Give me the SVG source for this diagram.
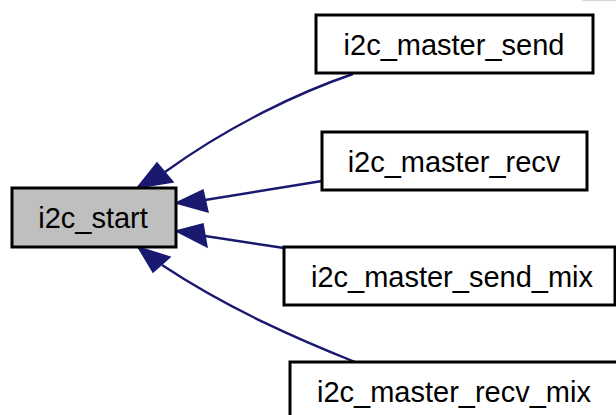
<svg xmlns="http://www.w3.org/2000/svg" width="616" height="415" viewBox="0 0 616 415">
  <style>
    .box { fill: #ffffff; stroke: #000000; stroke-width: 3; }
    .box.cur { fill: #bfbfbf; }
    .lbl { font-family: "Liberation Sans", Arial, sans-serif; font-size: 29px; fill: #000000; text-anchor: middle; }
    .edge { fill: none; stroke: #191970; stroke-width: 2.4; }
    .head { fill: #191970; stroke: #191970; stroke-width: 1.5; stroke-linejoin: miter; }
  </style>
  <rect width="616" height="415" fill="#ffffff"/>

  <!-- callers pointing at i2c_start -->
  <g id="connectors">
    <path class="edge" d="M353,74 C300,92 230,125 165,172"/>
    <polygon class="head" points="137,188 157,163 173,182"/>
    <path class="edge" d="M322,181 L205,200"/>
    <polygon class="head" points="176,203 203,190 208,212"/>
    <path class="edge" d="M284,248 L205,236"/>
    <polygon class="head" points="176,231 203,224 207,247"/>
    <path class="edge" d="M355,362 C300,340 230,310 162,265"/>
    <polygon class="head" points="138,247 170,257 153,272"/>
  </g>

  <g id="i2c_start">
    <rect class="box cur" x="12" y="188" width="164" height="59"/>
    <text class="lbl" x="93" y="228">i2c_start</text>
  </g>

  <g id="i2c_master_send">
    <rect class="box" x="316" y="15" width="277" height="58"/>
    <text class="lbl" x="454" y="55">i2c_master_send</text>
  </g>

  <g id="i2c_master_recv">
    <rect class="box" x="322" y="132" width="265" height="58"/>
    <text class="lbl" x="454" y="172">i2c_master_recv</text>
  </g>

  <g id="i2c_master_send_mix">
    <rect class="box" x="284" y="247" width="331" height="58"/>
    <text class="lbl" x="452" y="287">i2c_master_send_mix</text>
  </g>

  <g id="i2c_master_recv_mix">
    <rect class="box" x="290" y="362" width="340" height="60"/>
    <text class="lbl" x="454" y="402">i2c_master_recv_mix</text>
  </g>

  <!-- partial border along the top-right edge -->
  <line x1="582" y1="0.5" x2="616" y2="0.5" stroke="#d8d8d8" stroke-width="1.5"/>
</svg>
